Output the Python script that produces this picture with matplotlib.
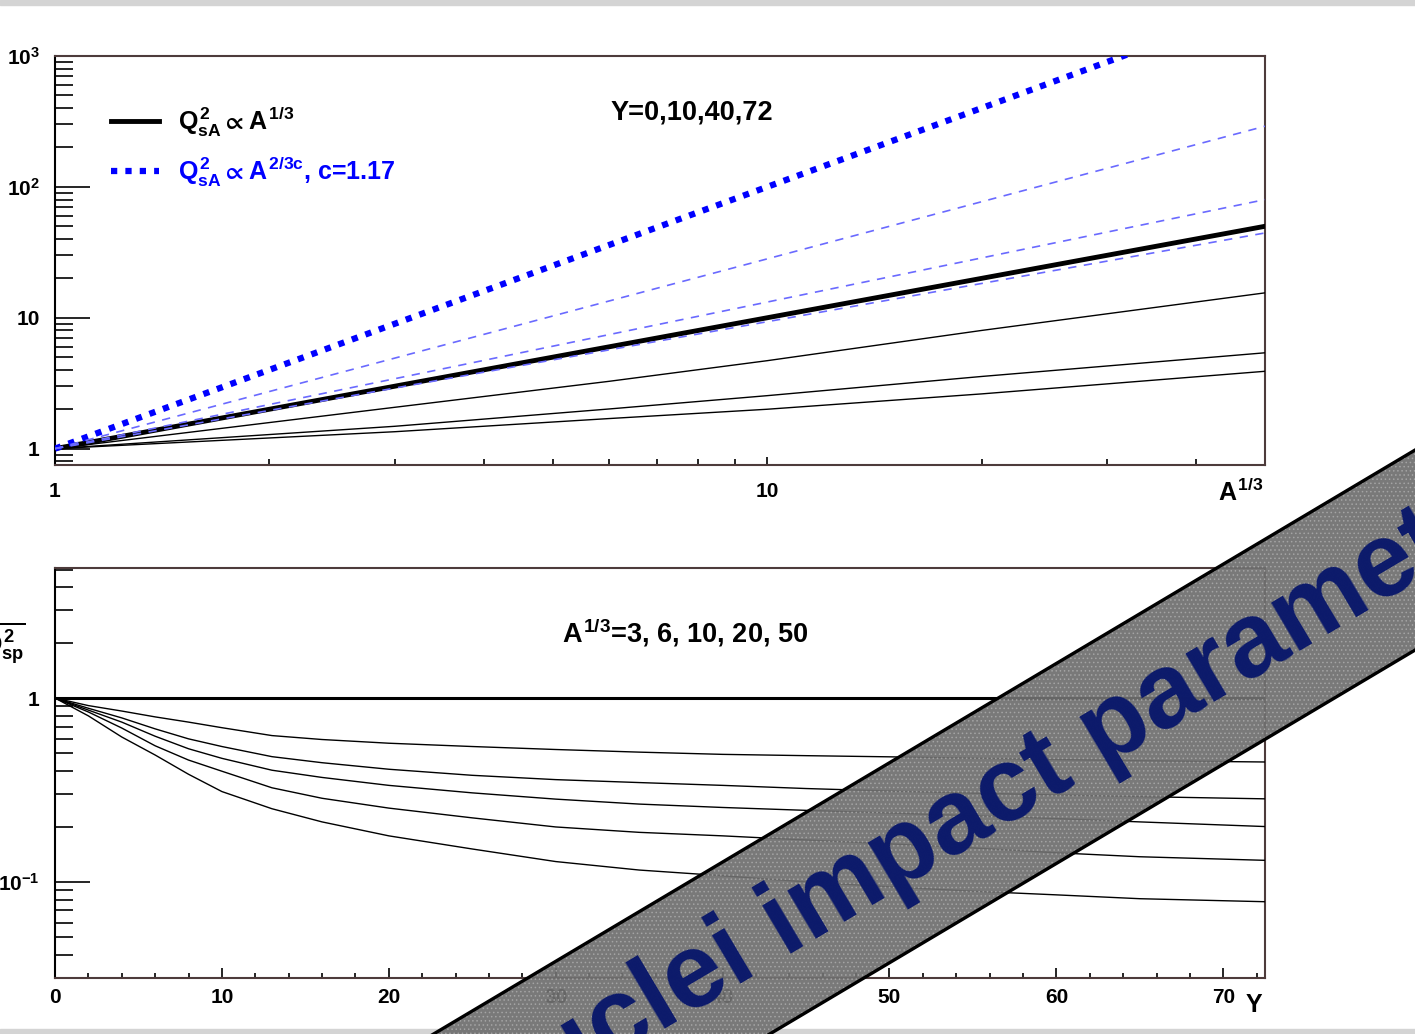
import matplotlib
matplotlib.use("Agg")
import matplotlib.pyplot as plt
import numpy as np
from matplotlib.patches import Polygon, Rectangle
from matplotlib.lines import Line2D

plt.rcParams["font.family"] = ["Liberation Sans", "DejaVu Sans"]
plt.rcParams["font.weight"] = "bold"
plt.rcParams["mathtext.fontset"] = "custom"
plt.rcParams["mathtext.rm"] = "Liberation Sans:bold"
plt.rcParams["mathtext.it"] = "Liberation Sans:bold"
plt.rcParams["mathtext.bf"] = "Liberation Sans:bold"
plt.rcParams["mathtext.fallback"] = "stixsans"
plt.rcParams["hatch.linewidth"] = 0.6

# ── Donnees : rapport Q2_sA / (A^1/3 Q2_sp) en fonction de Y ────────────────
Y_grid = [0, 2, 4, 6, 8, 10, 13, 16, 20, 25, 30, 35, 40, 45, 50, 55, 60, 65, 72.5]
ratio_A1 = [1.0] * len(Y_grid)
ratio_A3 = [1.0, 0.91, 0.85, 0.79, 0.74, 0.69, 0.625, 0.595, 0.568, 0.545,
            0.525, 0.508, 0.494, 0.486, 0.479, 0.471, 0.463, 0.456, 0.449]
ratio_A6 = [1.0, 0.88, 0.78, 0.68, 0.60, 0.545, 0.48, 0.445, 0.41, 0.38,
            0.36, 0.347, 0.335, 0.322, 0.312, 0.304, 0.297, 0.291, 0.283]
ratio_A10 = [1.0, 0.86, 0.74, 0.62, 0.53, 0.47, 0.405, 0.37, 0.335, 0.305,
             0.282, 0.265, 0.254, 0.245, 0.237, 0.229, 0.221, 0.212, 0.200]
ratio_A20 = [1.0, 0.84, 0.687, 0.55, 0.46, 0.40, 0.325, 0.285, 0.252, 0.223,
             0.199, 0.186, 0.178, 0.169, 0.161, 0.153, 0.144, 0.137, 0.131]
ratio_A50 = [1.0, 0.80, 0.614, 0.49, 0.385, 0.31, 0.25, 0.212, 0.178, 0.151,
             0.129, 0.116, 0.108, 0.100, 0.094, 0.089, 0.085, 0.081, 0.078]

A_third = [1, 3, 6, 10, 20, 50]
ratios_by_A = [ratio_A1, ratio_A3, ratio_A6, ratio_A10, ratio_A20, ratio_A50]

# panneau du haut : courbes noires pour Y = 0, 10, 40, 72 (derniere valeur de la grille)
Y_top = [0, 10, 40, 72.5]
# droites bleues Q2 ~ A^(2/3c) : exposant en A^1/3
blue_exp = [2.0, 1.45, 1.12, 0.97]

# ── Figure ──────────────────────────────────────────────────────────────────
W, H = 1415, 1034
fig = plt.figure(figsize=(W / 100, H / 100), dpi=100)


def fx(px):
    return px / W


def fy(py):
    return 1 - py / H


ax1 = fig.add_axes([fx(55), fy(465), fx(1265) - fx(55), fy(56) - fy(465)])
ax2 = fig.add_axes([fx(55), fy(978), fx(1265) - fx(55), fy(568) - fy(978)])

frame_col = "#4d3b3b"
for ax in (ax1, ax2):
    for side in ("top", "right", "bottom"):
        ax.spines[side].set_color(frame_col)
        ax.spines[side].set_linewidth(1.5)
    ax.spines["left"].set_color("black")
    ax.spines["left"].set_linewidth(1.5)

# ── Panneau du haut ─────────────────────────────────────────────────────────
A_arr = np.array(A_third, dtype=float)
for Y in Y_top:
    i = Y_grid.index(Y)
    vals = np.array([r[i] for r in ratios_by_A]) * A_arr
    if Y == 0:
        ax1.plot(A_arr, vals, color="black", lw=3.5, zorder=3)
    else:
        ax1.plot(A_arr, vals, color="black", lw=1.0, zorder=3)

x_line = np.array([1.0, 50.0])
for k, p in enumerate(blue_exp):
    if k == 0:
        ax1.plot(x_line, x_line ** p, color="#0000ff", lw=4.5,
                 ls=(0, (1, 1.3)), zorder=4)
    else:
        ax1.plot(x_line, x_line ** p, color="#6a6aff", lw=1.2,
                 ls=(0, (5, 4.5)), zorder=4)

ax1.set_xscale("log")
ax1.set_yscale("log")
ax1.set_xlim(1, 50)
ax1.set_ylim(0.75, 1000)
ax1.set_xticks([1, 10])
ax1.set_xticklabels(["1", "10"])
ax1.set_xticks([2, 3, 4, 5, 6, 7, 8, 9, 20, 30, 40], minor=True)
ax1.set_yticks([1, 10, 100, 1000])
ax1.set_yticklabels(["1", "10", r"$10^{2}$", r"$10^{3}$"])
ax1.set_yticks([0.8, 0.9] + [m * d for d in (1, 10, 100) for m in range(2, 10)],
               minor=True)
ax1.yaxis.set_minor_formatter(plt.NullFormatter())
ax1.xaxis.set_minor_formatter(plt.NullFormatter())

leg = ax1.legend(
    handles=[Line2D([], [], color="black", lw=3.5),
             Line2D([], [], color="#0000ff", lw=4.5, ls=(0, (1, 1.3)))],
    labels=[r"$Q^{2}_{sA}\propto A^{1/3}$", r"$Q^{2}_{sA}\propto A^{2/3c}$, c=1.17"],
    loc="upper left", bbox_to_anchor=(0.028, 0.935), frameon=False,
    fontsize=18, handlelength=1.9, handletextpad=0.75, labelspacing=0.62)
leg.get_texts()[1].set_color("#0000ff")

ax1.text(0.526, 0.861, "Y=0,10,40,72", transform=ax1.transAxes,
         ha="center", va="center", fontsize=19.5)

# ── Panneau du bas ──────────────────────────────────────────────────────────
ax2.plot(Y_grid, ratio_A1, color="black", lw=2.2, zorder=3)
for r in ratios_by_A[1:]:
    ax2.plot(Y_grid, r, color="black", lw=1.0, zorder=3)

ax2.set_yscale("log")
ax2.set_xlim(0, 72.5)
ax2.set_ylim(0.03, 5.1)
ax2.set_xticks(range(0, 71, 10))
ax2.set_xticks(range(2, 73, 2), minor=True)
ax2.set_yticks([0.1, 1])
ax2.set_yticklabels([r"$10^{-1}$", "1"])
ax2.set_yticks([0.03, 0.04, 0.05, 0.06, 0.07, 0.08, 0.09,
                0.2, 0.3, 0.4, 0.5, 0.6, 0.7, 0.8, 0.9, 2, 3, 4, 5], minor=True)
ax2.yaxis.set_minor_formatter(plt.NullFormatter())

ax2.text(0.521, 0.841, r"$A^{1/3}$=3, 6, 10, 20, 50", transform=ax2.transAxes,
         ha="center", va="center", fontsize=19.5)

for ax in (ax1, ax2):
    ax.tick_params(which="both", direction="in", top=False, right=False,
                   labelsize=15, width=1.2)
    ax.tick_params(axis="y", which="major", length=25, pad=11)
    ax.tick_params(axis="y", which="minor", length=13)
ax1.tick_params(axis="x", which="major", length=6, pad=12)
ax1.tick_params(axis="x", which="minor", length=4)
ax2.tick_params(axis="x", which="major", length=7, pad=7)
ax2.tick_params(axis="x", which="minor", length=3.5)

# titres d'axes
fig.text(fx(1263), fy(492), r"$A^{1/3}$", ha="right", va="center", fontsize=18)
fig.text(fx(1262), fy(1005), "Y", ha="right", va="center", fontsize=18)
fig.text(fx(26), fy(626), r"$\frac{Q^{2}_{sA}}{A^{1/3}Q^{2}_{sp}}$",
         ha="right", va="center", fontsize=27)

# bandes grises haut / bas
fig.add_artist(Rectangle((0, fy(5)), 1, 1 - fy(5), transform=fig.transFigure,
                         color="#d4d4d4", zorder=0))
fig.add_artist(Rectangle((0, 0), 1, fy(1029), transform=fig.transFigure,
                         color="#d4d4d4", zorder=0))

# ── Bandeau diagonal ────────────────────────────────────────────────────────
slope = 0.595
x0, x1 = 300, 1550


def edge(x, y_at_1000):
    return y_at_1000 - slope * (x - 1000)


up0, up1 = edge(x0, 697), edge(x1, 697)
lo0, lo1 = edge(x0, 897), edge(x1, 897)
band = Polygon([(fx(x0), fy(up0)), (fx(x1), fy(up1)), (fx(x1), fy(lo1)), (fx(x0), fy(lo0))],
               closed=True, transform=fig.transFigure, facecolor="#6f6f6f",
               edgecolor="#a6a6a6", hatch="....", lw=0, alpha=0.93, zorder=10)
fig.add_artist(band)
for yy0, yy1 in ((up0, up1), (lo0, lo1)):
    fig.add_artist(Line2D([fx(x0), fx(x1)], [fy(yy0), fy(yy1)],
                          transform=fig.transFigure, color="black", lw=2.4, zorder=11))

angle = np.degrees(np.arctan(slope))
fig.text(fx(1000), fy(797), "Nuclei impact parameter", rotation=angle,
         rotation_mode="anchor", ha="center", va="center", fontsize=76,
         color="#0c1a6b", zorder=12)

fig.savefig("out.png", dpi=100)
